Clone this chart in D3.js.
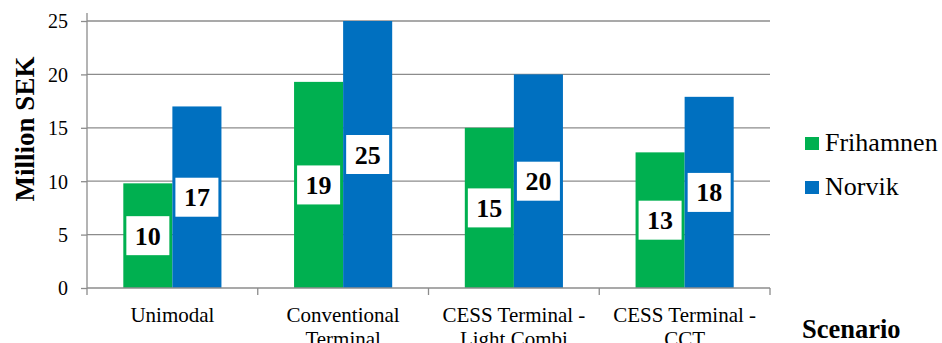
<!DOCTYPE html>
<html>
<head>
<meta charset="utf-8">
<script src="https://cdn.jsdelivr.net/npm/d3@7"></script>
<style>
  html, body { margin: 0; padding: 0; background: #fff; }
  svg { display: block; }
</style>
</head>
<body>
<svg id="chart" width="942" height="343"></svg>
<script>
// Scenario cost comparison, million SEK
const categories = [
  ["Unimodal"],
  ["Conventional", "Terminal"],
  ["CESS Terminal -", "Light Combi"],
  ["CESS Terminal -", "CCT"]
];
const seriesNames = ["Frihamnen", "Norvik"];
const frihamnen = [9.8, 19.3, 15.0, 12.7];
const norvik = [17.0, 25.0, 20.0, 17.9];
const yTicks = [0, 5, 10, 15, 20, 25];
const colors = ["#00B050", "#0070C0"];

const serif = "Liberation Serif";
const svg = d3.select("#chart");
const plotLeft = 87, plotRight = 770, plotTop = 21, plotBottom = 288;

const catKeys = categories.map(c => c.join(" "));
const rows = catKeys.map((k, i) => ({ key: k, lines: categories[i], values: [frihamnen[i], norvik[i]] }));

const x0 = d3.scaleBand().domain(catKeys).range([plotLeft, plotRight]).padding(0);
const x1 = d3.scaleBand().domain(seriesNames).range([0, x0.bandwidth()]).paddingInner(0).paddingOuter(0.74);
const y = d3.scaleLinear().domain([0, 25]).range([plotBottom, plotTop]);

const grey = "#8c8c8c";

// horizontal gridlines
svg.append("g")
  .selectAll("line")
  .data(yTicks.filter(t => t > 0))
  .join("line")
  .attr("x1", plotLeft).attr("x2", plotRight)
  .attr("y1", d => y(d)).attr("y2", d => y(d))
  .attr("stroke", grey).attr("stroke-width", 1.3);

// bars
const groups = svg.append("g")
  .selectAll("g")
  .data(rows)
  .join("g")
  .attr("transform", d => `translate(${x0(d.key)},0)`);

groups.selectAll("rect")
  .data(d => d.values.map((v, i) => ({ name: seriesNames[i], value: v, i })))
  .join("rect")
  .attr("x", d => x1(d.name))
  .attr("y", d => y(d.value))
  .attr("width", x1.bandwidth())
  .attr("height", d => y(0) - y(d.value))
  .attr("fill", d => colors[d.i]);

// value labels in white boxes
const fmt = d3.format(".0f");
const labels = groups.selectAll("g.lbl")
  .data(d => d.values.map((v, i) => ({ name: seriesNames[i], value: v, i })))
  .join("g")
  .attr("class", "lbl")
  .attr("transform", d => `translate(${x1(d.name) + x1.bandwidth() / 2},${(y(d.value) + y(0)) / 2})`);

labels.append("rect")
  .attr("x", -21.5).attr("y", -19.5)
  .attr("width", 43).attr("height", 39)
  .attr("fill", "#fff");

labels.append("text")
  .attr("text-anchor", "middle")
  .attr("y", 9)
  .style("font-family", serif)
  .style("font-size", "26px")
  .style("font-weight", "bold")
  .attr("fill", "#000")
  .text(d => fmt(d.value));

// y axis
const yAxis = svg.append("g")
  .attr("transform", `translate(${plotLeft},0)`)
  .call(d3.axisLeft(y).tickValues(yTicks).tickSize(6).tickPadding(13));
yAxis.select(".domain").remove();
yAxis.selectAll(".tick line").attr("stroke", grey).attr("stroke-width", 1.3);
yAxis.selectAll(".tick text")
  .style("font-family", serif)
  .style("font-size", "20px")
  .attr("fill", "#000").attr("dy", "0.34em");
svg.append("line")
  .attr("x1", plotLeft).attr("x2", plotLeft).attr("y1", 13).attr("y2", plotBottom)
  .attr("stroke", grey).attr("stroke-width", 1.3);

// x axis line and category dividers
svg.append("line")
  .attr("x1", plotLeft).attr("x2", plotRight).attr("y1", plotBottom).attr("y2", plotBottom)
  .attr("stroke", grey).attr("stroke-width", 1.3);
const dividers = catKeys.map(k => x0(k)).concat([plotRight]);
svg.append("g")
  .selectAll("line")
  .data(dividers)
  .join("line")
  .attr("x1", d => d).attr("x2", d => d)
  .attr("y1", plotBottom).attr("y2", plotBottom + 7)
  .attr("stroke", grey).attr("stroke-width", 1.3);

// category labels
const catText = svg.append("g")
  .selectAll("text")
  .data(rows)
  .join("text")
  .attr("text-anchor", "middle")
  .style("font-family", serif)
  .style("font-size", "21px")
  .attr("fill", "#000")
  .attr("x", d => x0(d.key) + x0.bandwidth() / 2)
  .attr("y", 322);
catText.selectAll("tspan")
  .data(d => d.lines)
  .join("tspan")
  .attr("x", function () { return d3.select(this.parentNode).attr("x"); })
  .attr("dy", (d, i) => i === 0 ? 0 : 24)
  .text(d => d);

// axis titles
svg.append("text")
  .attr("transform", "translate(34,129) rotate(-90)")
  .attr("text-anchor", "middle")
  .style("font-family", serif)
  .style("font-size", "27px")
  .style("font-weight", "bold")
  .text("Million SEK");

svg.append("text")
  .attr("x", 802).attr("y", 338)
  .style("font-family", serif)
  .style("font-size", "26.5px")
  .style("font-weight", "bold")
  .text("Scenario");

// legend
const legend = svg.append("g")
  .selectAll("g")
  .data(seriesNames)
  .join("g")
  .attr("transform", (d, i) => `translate(805,${151 + i * 44})`);
legend.append("rect")
  .attr("x", 0).attr("y", -14)
  .attr("width", 14).attr("height", 13)
  .attr("fill", (d, i) => colors[i]);
legend.append("text")
  .attr("x", 20).attr("y", 0)
  .style("font-family", serif)
  .style("font-size", "26px")
  .text(d => d);
</script>
</body>
</html>
